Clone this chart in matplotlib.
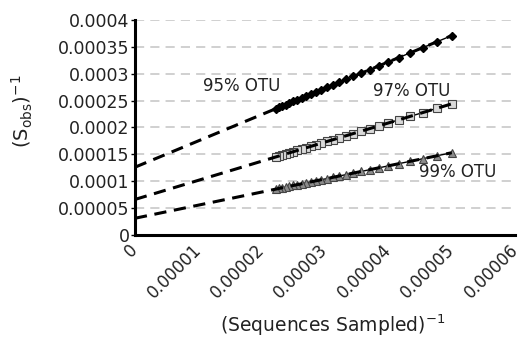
import matplotlib.pyplot as plt
from matplotlib.ticker import FixedLocator


# ========================================
# DATA
# ========================================
# (Sequences Sampled)^-1, same sampling points for all three curves
x_inv = [5.000e-5, 4.762e-5, 4.545e-5, 4.348e-5, 4.167e-5, 4.000e-5,
         3.846e-5, 3.704e-5, 3.571e-5, 3.448e-5, 3.333e-5, 3.226e-5,
         3.125e-5, 3.030e-5, 2.941e-5, 2.857e-5, 2.778e-5, 2.703e-5,
         2.632e-5, 2.564e-5, 2.500e-5, 2.439e-5, 2.381e-5, 2.326e-5,
         2.273e-5, 2.222e-5]

# (S_obs)^-1
otu95 = [3.710e-4, 3.593e-4, 3.487e-4, 3.391e-4, 3.302e-4, 3.220e-4,
         3.145e-4, 3.075e-4, 3.010e-4, 2.950e-4, 2.893e-4, 2.841e-4,
         2.791e-4, 2.745e-4, 2.701e-4, 2.660e-4, 2.621e-4, 2.584e-4,
         2.550e-4, 2.516e-4, 2.485e-4, 2.455e-4, 2.427e-4, 2.400e-4,
         2.374e-4, 2.349e-4]

otu97 = [2.440e-4, 2.355e-4, 2.278e-4, 2.208e-4, 2.143e-4, 2.084e-4,
         2.029e-4, 1.979e-4, 1.931e-4, 1.887e-4, 1.847e-4, 1.808e-4,
         1.773e-4, 1.739e-4, 1.707e-4, 1.677e-4, 1.649e-4, 1.622e-4,
         1.597e-4, 1.573e-4, 1.550e-4, 1.528e-4, 1.508e-4, 1.488e-4,
         1.469e-4, 1.451e-4]

otu99 = [1.530e-4, 1.472e-4, 1.419e-4, 1.371e-4, 1.327e-4, 1.286e-4,
         1.248e-4, 1.214e-4, 1.181e-4, 1.151e-4, 1.123e-4, 1.097e-4,
         1.073e-4, 1.049e-4, 1.028e-4, 1.007e-4, 0.988e-4, 0.970e-4,
         0.952e-4, 0.936e-4, 0.920e-4, 0.905e-4, 0.891e-4, 0.878e-4,
         0.865e-4, 0.852e-4]

# linear trend lines (extrapolated to x = 0)
fit_x = [0.0, 5.0e-5]
fit95 = [1.26e-4, 3.71e-4]
fit97 = [0.66e-4, 2.44e-4]
fit99 = [0.31e-4, 1.53e-4]

y_ticks = [0, 0.00005, 0.0001, 0.00015, 0.0002, 0.00025, 0.0003, 0.00035, 0.0004]
y_tick_labels = ["0", "0.00005", "0.0001", "0.00015", "0.0002", "0.00025",
                 "0.0003", "0.00035", "0.0004"]
x_ticks = [0, 0.00001, 0.00002, 0.00003, 0.00004, 0.00005, 0.00006]
x_tick_labels = ["0", "0.00001", "0.00002", "0.00003", "0.00004", "0.00005", "0.00006"]


# ========================================
# FIGURE
# ========================================
plt.rcParams["font.family"] = ["DejaVu Sans"]
plt.rcParams["mathtext.default"] = "regular"

fig = plt.figure(figsize=(5.23, 3.39), dpi=100)
ax = fig.add_axes([0.258, 0.307, 0.727, 0.634])

# grid lines
for yv in y_ticks[1:]:
    ax.axhline(yv, color="#c4c4c4", lw=1.1, ls=(0, (6, 4)), zorder=0)

# data series
ax.plot(x_inv, otu95, color="black", lw=1, marker="D", ms=4.5,
        mfc="black", mec="black", zorder=3)
ax.plot(x_inv, otu97, color="black", lw=1, marker="s", ms=6,
        mfc="#d9d9d9", mec="#444444", mew=0.8, zorder=3)
ax.plot(x_inv, otu99, color="black", lw=1, marker="^", ms=6,
        mfc="#8c8c8c", mec="#444444", mew=0.8, zorder=3)

# trend lines
for fy in [fit95, fit97, fit99]:
    ax.plot(fit_x, fy, color="black", lw=2.2, ls=(0, (4, 2.5)), zorder=4)

# labels on the curves
ax.text(1.68e-5, 2.77e-4, "95% OTU", ha="center", va="center",
        fontsize=12, color="#222222")
ax.text(4.36e-5, 2.68e-4, "97% OTU", ha="center", va="center",
        fontsize=12, color="#222222")
ax.text(5.09e-5, 1.17e-4, "99% OTU", ha="center", va="center",
        fontsize=12, color="#222222")

ax.set_xlim(0, 0.00006)
ax.set_ylim(0, 0.0004)

ax.yaxis.set_major_locator(FixedLocator(y_ticks))
ax.set_yticklabels(y_tick_labels, fontsize=12.5, color="#222222")
ax.xaxis.set_major_locator(FixedLocator(x_ticks))
ax.set_xticklabels(x_tick_labels, fontsize=12, rotation=45, color="#222222",
                   ha="right", va="center", rotation_mode="anchor")

ax.tick_params(axis="y", length=3, width=1, pad=1)
ax.tick_params(axis="x", length=0, pad=9)

for side in ["top", "right"]:
    ax.spines[side].set_visible(False)
for side in ["left", "bottom"]:
    ax.spines[side].set_linewidth(2.2)

ax.set_ylabel(r"(S$_{obs}$)$^{-1}$", fontsize=14, color="#222222")
ax.yaxis.set_label_coords(-0.262, 0.577)
ax.set_xlabel(r"(Sequences Sampled)$^{-1}$", fontsize=13.5, color="#222222")
ax.xaxis.set_label_coords(0.52, -0.36)

fig.savefig("out.png", dpi=100)
